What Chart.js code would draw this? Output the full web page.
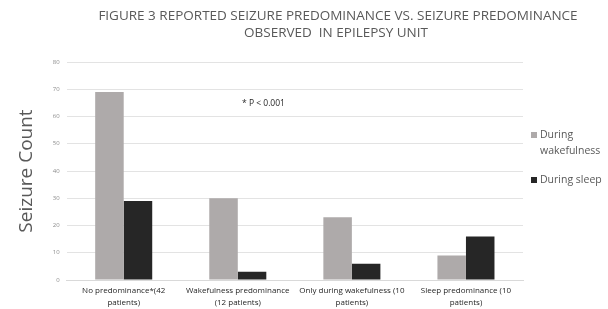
<!DOCTYPE html>
<html>
<head>
<meta charset="utf-8">
<script src="https://cdn.jsdelivr.net/npm/chart.js@4.4.0/dist/chart.umd.min.js"></script>
<style>
  html, body { margin: 0; padding: 0; background: #fff; }
  #wrap { width: 608px; height: 309px; }
</style>
</head>
<body>
<div id="wrap"><canvas id="seizureChart" width="608" height="309"></canvas></div>
<script>
const categories = [
  ['No predominance*(42', 'patients)'],
  ['Wakefulness predominance', '(12 patients)'],
  ['Only during wakefulness (10', 'patients)'],
  ['Sleep predominance (10', 'patients)']
];
const wakeCounts = [69, 30, 23, 9];
const sleepCounts = [29, 3, 6, 16];
const seriesNames = ['During wakefulness', 'During sleep'];
const yTicks = [0, 80, 10];
const titleLines = ['FIGURE 3 REPORTED SEIZURE PREDOMINANCE VS. SEIZURE PREDOMINANCE', 'OBSERVED  IN EPILEPSY UNIT'];

const FONT = "'Open Sans', 'Liberation Sans', sans-serif";

// title, legend and note drawn by hand so they sit where the original has them
const extras = {
  id: 'extras',
  afterDraw(chart) {
    const ctx = chart.ctx;
    ctx.save();
    ctx.textBaseline = 'middle';

    ctx.font = '13.5px ' + FONT;
    ctx.fillStyle = '#595959';
    ctx.textAlign = 'center';
    ctx.fillText(titleLines[0], 338, 16);
    ctx.fillText(titleLines[1], 336, 33);

    ctx.textAlign = 'left';
    const x = chart.chartArea.right + 8;
    ctx.font = '10.5px ' + FONT;
    chart.data.datasets.forEach((ds, i) => {
      const y = i === 0 ? 135 : 180;
      ctx.fillStyle = ds.backgroundColor;
      ctx.fillRect(x, y - 3, 6, 6);
      ctx.fillStyle = '#595959';
      if (i === 0) {
        ctx.fillText('During', x + 9, y);
        ctx.fillText('wakefulness', x + 9, y + 16);
      } else {
        ctx.fillText(ds.label, x + 9, y);
      }
    });

    ctx.font = '8.5px ' + FONT;
    ctx.fillStyle = '#262626';
    ctx.fillText('* P < 0.001', 242, 104);
    ctx.restore();
  }
};

new Chart(document.getElementById('seizureChart'), {
  type: 'bar',
  data: {
    labels: categories,
    datasets: [
      { label: seriesNames[0], data: wakeCounts, backgroundColor: '#aeaaaa' },
      { label: seriesNames[1], data: sleepCounts, backgroundColor: '#262626' }
    ]
  },
  options: {
    responsive: false,
    animation: false,
    layout: { padding: { left: 15, right: 85, top: 62, bottom: 0 } },
    plugins: {
      legend: { display: false },
      tooltip: { enabled: false },
      title: { display: false }
    },
    datasets: {
      bar: { categoryPercentage: 0.5, barPercentage: 1.0 }
    },
    scales: {
      x: {
        afterFit(scale) { scale.height = 29; },
        grid: { display: false, drawTicks: false },
        border: { color: '#d9d9d9' },
        ticks: {
          color: '#1f1f1f',
          font: { family: FONT, size: 8, lineHeight: 1.5 },
          maxRotation: 0,
          autoSkip: false,
          padding: 5
        }
      },
      y: {
        min: yTicks[0],
        max: yTicks[1],
        grid: { color: '#e3e3e3', drawTicks: false },
        border: { display: false },
        ticks: {
          stepSize: yTicks[2],
          color: '#8c8c8c',
          font: { family: FONT, size: 6 },
          padding: 7
        },
        title: {
          display: true,
          text: 'Seizure Count',
          color: '#595959',
          font: { family: FONT, size: 19 },
          padding: { top: 0, bottom: 8 }
        }
      }
    }
  },
  plugins: [extras]
});
</script>
</body>
</html>
